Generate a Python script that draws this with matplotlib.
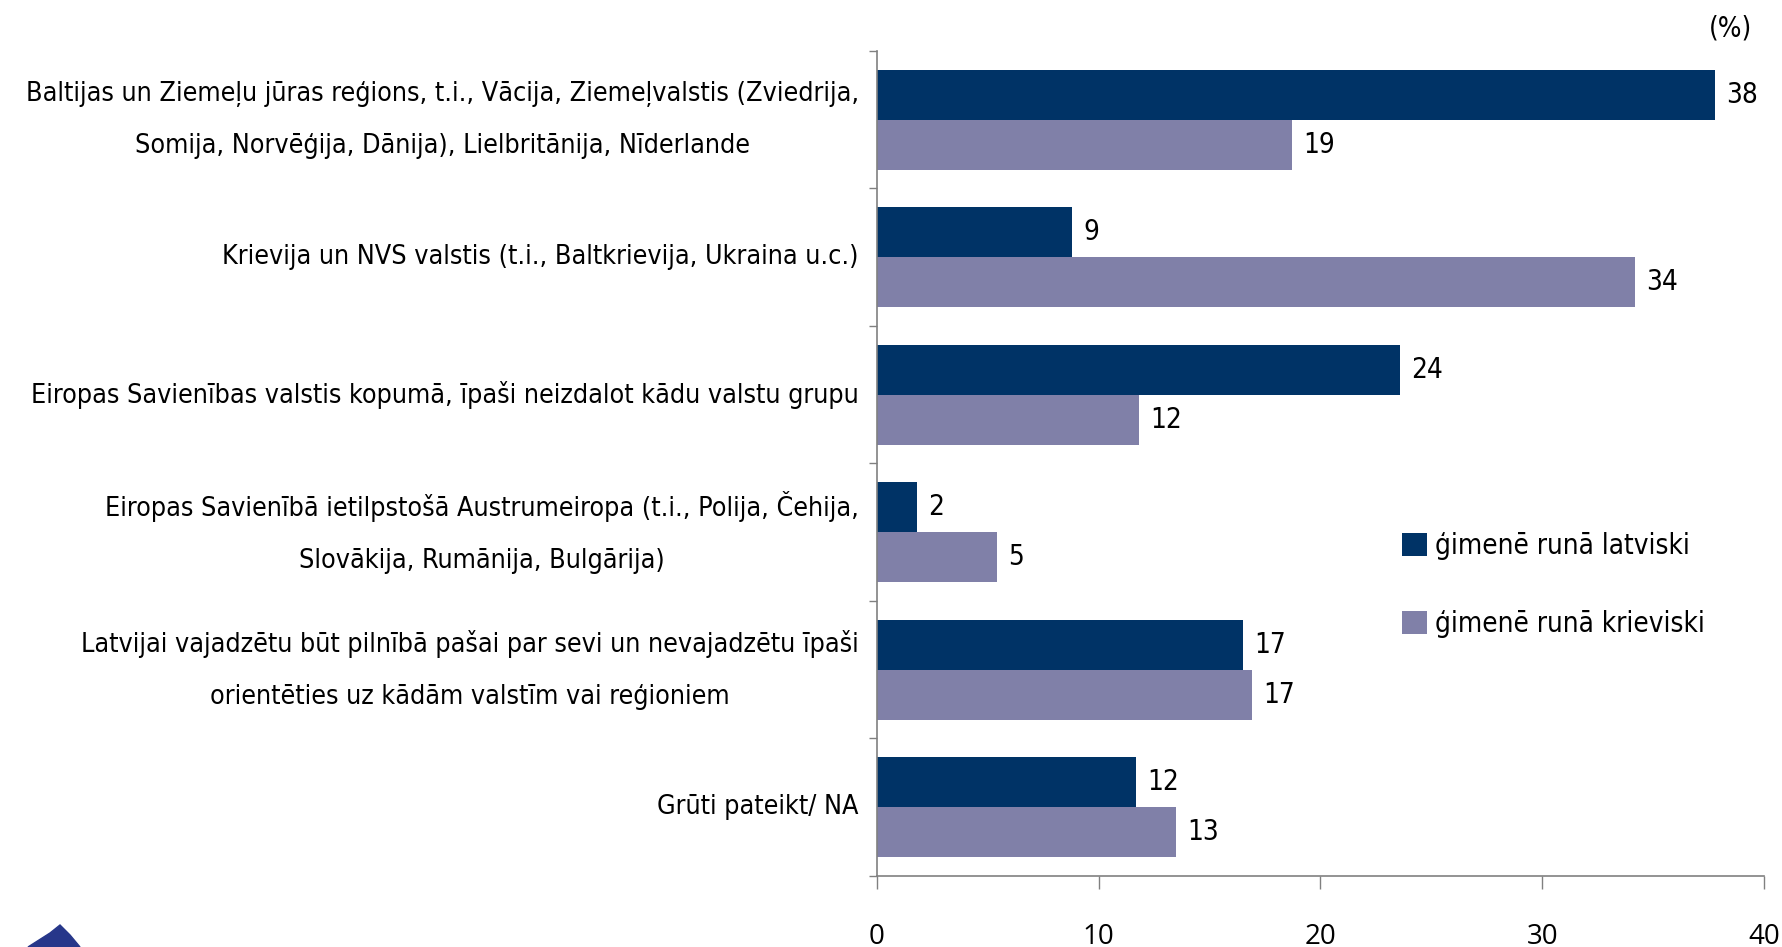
import numpy as np
import matplotlib.pyplot as plt
from matplotlib.patches import Polygon

categories = [
    "Baltijas un Ziemeļu jūras reģions, t.i., Vācija, Ziemeļvalstis (Zviedrija,\nSomija, Norvēģija, Dānija), Lielbritānija, Nīderlande",
    "Krievija un NVS valstis (t.i., Baltkrievija, Ukraina u.c.)",
    "Eiropas Savienības valstis kopumā, īpaši neizdalot kādu valstu grupu",
    "Eiropas Savienībā ietilpstošā Austrumeiropa (t.i., Polija, Čehija,\nSlovākija, Rumānija, Bulgārija)",
    "Latvijai vajadzētu būt pilnībā pašai par sevi un nevajadzētu īpaši\norientēties uz kādām valstīm vai reģioniem",
    "Grūti pateikt/ NA",
]
latv = [37.8, 8.8, 23.6, 1.8, 16.5, 11.7]
kriev = [18.7, 34.2, 11.8, 5.4, 16.9, 13.5]
latv_lbl = ["38", "9", "24", "2", "17", "12"]
kriev_lbl = ["19", "34", "12", "5", "17", "13"]
series_names = ["ģimenē runā latviski", "ģimenē runā krieviski"]
xticks = [0, 10, 20, 30, 40]

dark = "#003366"
light = "#8080A8"
grey = "#808080"
plt.rcParams['font.family'] = ["DejaVu Sans"]
plt.rcParams['font.stretch'] = 'condensed'

fig = plt.figure(figsize=(17.83, 9.47), dpi=100)
ax = fig.add_axes([877/1783, 1 - 876/947, (1764 - 877)/1783, (876 - 51)/947])

n = len(categories)
y = np.arange(n)
h = 0.365
ax.barh(y - h/2, latv, height=h, color=dark, label=series_names[0])
ax.barh(y + h/2, kriev, height=h, color=light, label=series_names[1])

for i in range(n):
    ax.text(latv[i] + 0.5, y[i] - h/2, latv_lbl[i], va='center', ha='left', fontsize=20)
    ax.text(kriev[i] + 0.5, y[i] + h/2, kriev_lbl[i], va='center', ha='left', fontsize=20)

ax.set_xlim(0, 40)
ax.set_ylim(n - 0.5, -0.5)
ax.set_xticks(xticks)
ax.set_xticklabels([str(v) for v in xticks], fontsize=20, family="Open Sans", stretch='normal')
ax.tick_params(axis='x', length=9.5, width=1, color=grey, pad=24)
ax.set_yticks(y)
ax.set_yticklabels(categories, fontsize=19.3, multialignment='center', linespacing=2.3,
                   va='center')
ax.set_yticks(np.arange(n + 1) - 0.5, minor=True)
ax.tick_params(axis='y', which='major', length=0, pad=13)
ax.tick_params(axis='y', which='minor', length=6, width=1, color=grey)

for s in ['top', 'right']:
    ax.spines[s].set_visible(False)
for s in ['left', 'bottom']:
    ax.spines[s].set_color(grey)
    ax.spines[s].set_linewidth(1.2)

leg = ax.legend(loc='upper left', bbox_to_anchor=(1377/1783, 1 - 507/947), bbox_transform=fig.transFigure,
                frameon=False, fontsize=20, handlelength=0.9, handleheight=0.9,
                handletextpad=0.3, labelspacing=1.8)

fig.text(1752/1783, 1 - 28/947, "(%)", ha='right', va='center', fontsize=20)

# logo fragment bottom-left
logo = Polygon([(28/1783, 0), (50/1783, 14/947), (60/1783, 22/947), (64/1783, 18/947),
                (70/1783, 12/947), (80/1783, 0)], closed=True, transform=fig.transFigure,
               color="#27378A", zorder=5)
fig.patches.append(logo)

fig.savefig("out.png", dpi=100)
